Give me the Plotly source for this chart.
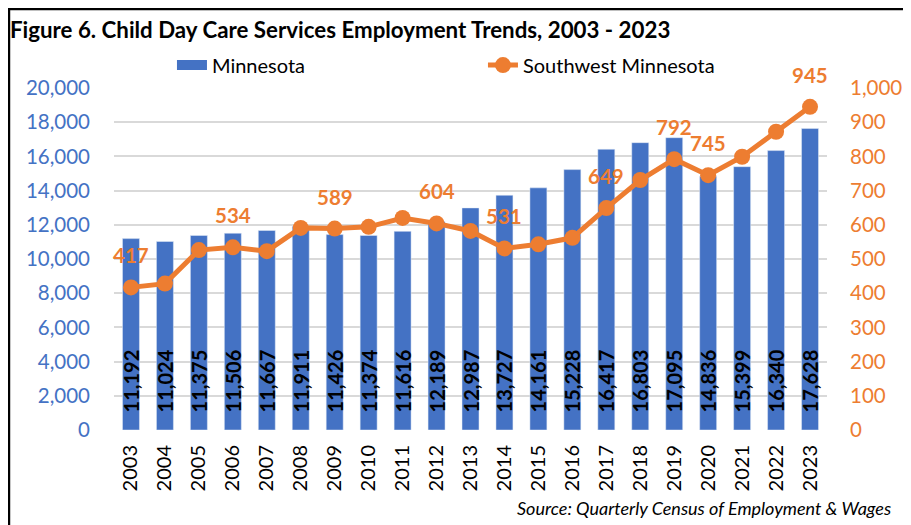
import plotly.graph_objects as go

years = list(range(2003, 2024))
minnesota = [11192, 11024, 11375, 11506, 11667, 11911, 11426, 11374, 11616, 12189,
             12987, 13727, 14161, 15228, 16417, 16803, 17095, 14836, 15399, 16340, 17628]
southwest = [417, 428, 526, 534, 523, 591, 589, 594, 620, 604,
             582, 531, 543, 562, 649, 731, 792, 745, 799, 872, 945]
labeled_years = [2003, 2006, 2009, 2012, 2014, 2017, 2019, 2020, 2023]

left_ticks = list(range(0, 20001, 2000))
right_ticks = list(range(0, 1001, 100))

BLUE = "#4472C4"
ORANGE = "#ED7D31"
FONT = "Lato"

fig = go.Figure()
fig.add_trace(go.Bar(
    x=years, y=minnesota, name="Minnesota", marker_color=BLUE, showlegend=False,
    texttemplate="\u00a0\u00a0\u00a0%{y:,}", textposition="inside", insidetextanchor="start",
    textangle=-90, textfont=dict(family=FONT, size=20, color="black", weight="bold"),
))
# legend-only entry for the bar series (wide blue swatch)
fig.add_trace(go.Scatter(
    x=[None], y=[None], name="Minnesota", mode="lines",
    line=dict(color=BLUE, width=13), hoverinfo="skip",
))
fig.add_trace(go.Scatter(
    x=years, y=southwest, name="Southwest Minnesota", yaxis="y2",
    mode="lines+markers", line=dict(color=ORANGE, width=5),
    marker=dict(color=ORANGE, size=16),
))

for yr, v in zip(years, southwest):
    if yr in labeled_years:
        fig.add_annotation(x=yr, y=v, xref="x", yref="y2", text=f"<b>{v}</b>",
                           showarrow=False, yshift=32,
                           font=dict(family=FONT, size=20.5, color=ORANGE))

fig.add_annotation(x=1.0926, y=-0.228, xref="paper", yref="paper", xanchor="right",
                   yanchor="middle", showarrow=False,
                   text="<i>Source: Quarterly Census of Employment &amp; Wages</i>",
                   font=dict(family=FONT, size=18, color="black"))

fig.add_shape(type="rect", xref="paper", yref="paper", x0=-0.1473, x1=1.3,
              y0=-0.5, y1=1.231, line=dict(color="black", width=2.5))

fig.update_layout(
    width=911, height=525,
    margin=dict(l=106, r=92, t=80, b=103, autoexpand=False),
    paper_bgcolor="white", plot_bgcolor="white",
    font=dict(family=FONT, color="black"),
    title=dict(text="<b>Figure 6. Child Day Care Services Employment Trends, 2003 - 2023</b>",
               xref="container", yref="container", x=2/911, xanchor="left",
               y=1-22/525, yanchor="middle", font=dict(family=FONT, size=22.3, color="black")),
    bargap=0.5,
    showlegend=True,
    legend=dict(orientation="h", x=0.0813, y=1.067, xanchor="left", yanchor="middle",
                font=dict(family=FONT, size=20, color="black"), entrywidth=266,
                entrywidthmode="pixels", bgcolor="rgba(0,0,0,0)", traceorder="normal"),
    uniformtext=dict(minsize=20, mode="show"),
    xaxis=dict(type="linear", range=[2002.5, 2023.5], tickmode="array", tickvals=years,
               ticktext=[str(y) for y in years], tickangle=-90,
               tickfont=dict(family=FONT, size=20, color="black"),
               showgrid=False, showline=False, ticks="", zeroline=False,
               ticklabelstandoff=10),
    yaxis=dict(range=[0, 20000], tickvals=left_ticks, tickformat=",",
               tickfont=dict(family=FONT, size=20.5, color=BLUE),
               gridcolor="#D9D9D9", gridwidth=1.5, zeroline=False, ticks="",
               ticklabelstandoff=23),
    yaxis2=dict(range=[0, 1000], tickvals=right_ticks, tickformat=",", overlaying="y",
                side="right", tickfont=dict(family=FONT, size=20.5, color=ORANGE),
                showgrid=False, zeroline=False, ticks="", ticklabelstandoff=22),
)

fig.write_html("out.html")
